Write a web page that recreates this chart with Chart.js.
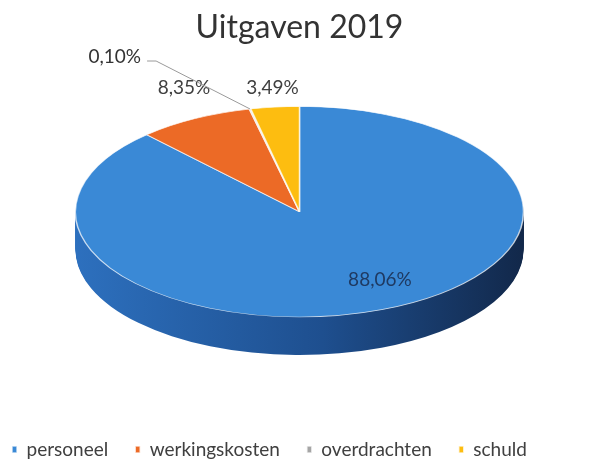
<!DOCTYPE html>
<html>
<head>
<meta charset="utf-8">
<title>Uitgaven 2019</title>
<script src="https://cdn.jsdelivr.net/npm/chart.js@4/dist/chart.umd.min.js"></script>
<style>
    html, body { margin: 0; padding: 0; background: #ffffff; }
    #wrap { width: 599px; height: 459px; }
</style>
</head>
<body>
<div id="wrap"><canvas id="uitgaven"></canvas></div>
<script>
// gegevens
const categorieen = ['personeel', 'werkingskosten', 'overdrachten', 'schuld'];
const percentages = [88.06, 8.35, 0.10, 3.49];
const kleuren = ['#3a89d6', '#ec6a26', '#a5a5a5', '#fdbd10'];
const zijkleuren = [['#2d70be', '#1e4f8f', '#12284a'], ['#a4461a'], ['#6e6e6e'], ['#b7860a']];

// 3D-look (schuin bekeken taart)
const KANTEL = 0.47;   // verticale afplatting
const DIEPTE = 38;     // dikte van de taart
const LIFT = -23;      // taart iets omhoog schuiven

function kantel(ctx, arc) {
    ctx.translate(arc.x, arc.y + LIFT);
    ctx.scale(1, KANTEL);
    ctx.translate(-arc.x, -arc.y);
}

function procent(v) {
    return v.toFixed(2).replace('.', ',') + '%';
}

const taart3d = {
    id: 'taart3d',
    beforeDatasetsDraw(chart) {
        const ctx = chart.ctx;
        const arcs = chart.getDatasetMeta(0).data;
        const r = arcs[0].outerRadius;
        const cx = arcs[0].x;

        // zijkant: dezelfde bogen, laag per laag naar onder verschoven
        arcs.forEach((arc, i) => {
            const kl = zijkleuren[i];
            let vulling = kl[0];
            if (kl.length > 1) {
                vulling = ctx.createLinearGradient(cx - r, 0, cx + r, 0);
                vulling.addColorStop(0, kl[0]);
                vulling.addColorStop(0.55, kl[1]);
                vulling.addColorStop(1, kl[2]);
            }
            const opts = arc.options;
            const oudBg = opts.backgroundColor;
            const oudBw = opts.borderWidth;
            opts.backgroundColor = vulling;
            opts.borderWidth = 0;
            for (let d = DIEPTE; d > 0; d--) {
                ctx.save();
                ctx.translate(0, d);
                kantel(ctx, arc);
                arc.draw(ctx);
                ctx.restore();
            }
            opts.backgroundColor = oudBg;
            opts.borderWidth = oudBw;
        });

        // bovenkant wordt door Chart.js zelf getekend, afgeplat
        ctx.save();
        kantel(ctx, arcs[0]);
    },
    afterDatasetsDraw(chart) {
        const ctx = chart.ctx;
        ctx.restore();

        const arcs = chart.getDatasetMeta(0).data;
        ctx.save();
        ctx.textBaseline = 'middle';
        ctx.font = '19px Lato';
        arcs.forEach((arc, i) => {
            const mid = (arc.startAngle + arc.endAngle) / 2;
            const r = arc.outerRadius;
            const punt = (fx, fy) => ({
                x: arc.x + Math.cos(mid) * r * fx,
                y: arc.y + LIFT + Math.sin(mid) * r * fy * KANTEL
            });
            const tekst = procent(percentages[i]);
            if (i === 0) {
                const p = punt(0.98, 0.7);
                ctx.fillStyle = '#1f3a62';
                ctx.textAlign = 'center';
                ctx.fillText(tekst, p.x, p.y);
            } else if (percentages[i] < 1) {
                // klein stukje: label met verbindingslijn
                const rand = punt(1, 1);
                const knik = { x: rand.x - 94, y: rand.y - 48 };
                ctx.strokeStyle = '#9a9a9a';
                ctx.lineWidth = 1;
                ctx.beginPath();
                ctx.moveTo(rand.x, rand.y);
                ctx.lineTo(knik.x, knik.y);
                ctx.lineTo(knik.x - 9, knik.y);
                ctx.stroke();
                ctx.fillStyle = '#333333';
                ctx.textAlign = 'right';
                ctx.fillText(tekst, knik.x - 15, knik.y - 4);
            } else {
                // boven de taart, op de hoogte van de bovenrand
                const p = punt(1.1, 1);
                const y = arc.y + LIFT - r * KANTEL * 1.18;
                ctx.fillStyle = '#404040';
                ctx.textAlign = 'center';
                ctx.fillText(tekst, p.x, y);
            }
        });
        ctx.restore();
    }
};

const ctx = document.getElementById('uitgaven').getContext('2d');
new Chart(ctx, {
    type: 'pie',
    data: {
        labels: categorieen,
        datasets: [{
            data: percentages,
            backgroundColor: kleuren,
            borderColor: 'rgba(255,255,255,0.75)',
            borderWidth: 1.5,
            radius: 224,
            clip: false
        }]
    },
    options: {
        responsive: true,
        maintainAspectRatio: false,
        animation: false,
        layout: {
            padding: { left: -15, right: -15, top: 0, bottom: -10 }
        },
        plugins: {
            title: {
                display: true,
                text: 'Uitgaven 2019',
                color: '#333333',
                font: { family: 'Lato', size: 32, weight: 'normal' },
                padding: { top: 8, bottom: 10 }
            },
            legend: {
                display: true,
                position: 'bottom',
                align: 'start',
                labels: {
                    color: '#404040',
                    font: { family: 'Lato', size: 19 },
                    boxWidth: 5,
                    boxHeight: 7,
                    padding: 27
                }
            },
            tooltip: { enabled: false }
        }
    },
    plugins: [taart3d]
});
</script>
</body>
</html>
